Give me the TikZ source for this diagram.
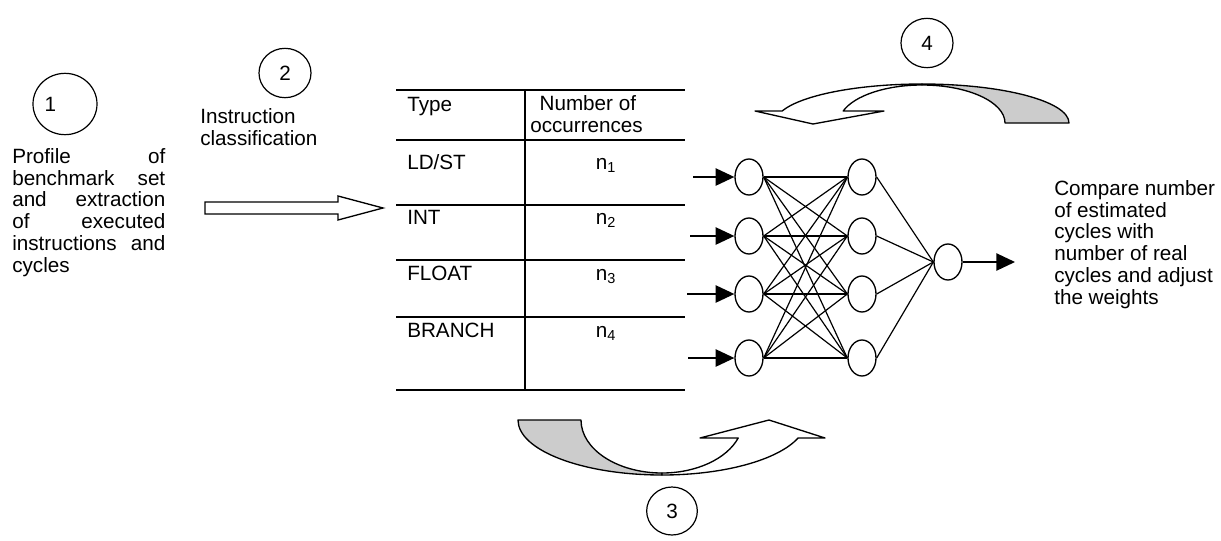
\documentclass[tikz,border=0pt]{standalone}
\usepackage{fontspec}
\setmainfont{Liberation Sans}
\usetikzlibrary{arrows.meta,shapes.geometric}
\definecolor{ribbongray}{HTML}{CCCCCC}
\begin{document}
\begin{tikzpicture}[x=0.75pt,y=0.75pt,
  txt/.style={font=\fontsize{15.5}{16.4}\selectfont, inner sep=0pt},
  numcirc/.style={draw, ellipse, line width=0.9pt, inner sep=0pt, font=\fontsize{15.5}{16.4}\selectfont},
  neuron/.style={draw, ellipse, line width=1pt, minimum width=21pt, minimum height=27pt, inner sep=0pt},
  link/.style={line width=0.9pt},
  inarrow/.style={line width=1pt, -{Triangle[length=14pt,width=13pt]}},
  tline/.style={line width=1.2pt},
  ribbon/.style={draw, line width=1pt, line join=round},
  hollow/.style={draw, line width=1pt, fill=white, line join=miter}]
\useasboundingbox (0,0) rectangle (1221,-540);

% numbered circles
\node[numcirc, minimum width=48pt, minimum height=46pt] (c1) at (65,-104) {1\kern22pt};
\node[numcirc, minimum width=39pt, minimum height=37pt] (c2) at (285,-73) {2};
\node[numcirc, minimum width=39pt, minimum height=37pt] (c4) at (927,-43) {4};
\node[numcirc, minimum width=38pt, minimum height=36pt] (c3) at (672,-511) {3};

% texts
\node[txt, anchor=north west, text width=114.75pt, align=justify] (t1) at (12,-148)
  {Profile of\break benchmark set\break and extraction\break of executed\break instructions and\break cycles};
\node[txt, anchor=north west, align=left] (t2) at (200,-108) {Instruction\\classification};
\node[txt, anchor=north west, align=left] (t5) at (1054,-180)
  {Compare number\\of estimated\\cycles with\\number of real\\cycles and adjust\\the weights};

% hollow block arrow
\path[hollow] (205,-202) -- (338,-202) -- (338,-196) -- (383,-208) -- (338,-220) -- (338,-214) -- (205,-214) -- cycle;

% table
\draw[tline] (396,-90) -- (685,-90);
\draw[tline] (396,-140) -- (685,-140);
\draw[tline] (396,-205) -- (685,-205);
\draw[tline] (396,-260) -- (685,-260);
\draw[tline] (396,-317) -- (685,-317);
\draw[tline] (396,-390) -- (685,-390);
\draw[tline] (525,-90) -- (525,-390);
\node[txt, anchor=base west] (ty) at (407,-111) {Type};
\node[txt, anchor=north west, align=left] (noc) at (530,-95) {\hspace*{7pt}Number of\\occurrences};
\node[txt, anchor=base west] (r1) at (407,-169) {LD/ST};
\node[txt, anchor=base west] (r2) at (407,-224) {INT};
\node[txt, anchor=base west] (r3) at (407,-280) {FLOAT};
\node[txt, anchor=base west] (r4) at (407,-337) {BRANCH};
\node[txt, anchor=base] (n1) at (606,-169) {n\textsubscript{1}};
\node[txt, anchor=base] (n2) at (606,-224) {n\textsubscript{2}};
\node[txt, anchor=base] (n3) at (606,-280) {n\textsubscript{3}};
\node[txt, anchor=base] (n4) at (606,-337) {n\textsubscript{4}};

% neural network
\node[neuron] (i1) at (749,-177) {};
\node[neuron] (i2) at (749,-236) {};
\node[neuron] (i3) at (749,-294) {};
\node[neuron] (i4) at (749,-358) {};
\node[neuron] (h1) at (862,-177) {};
\node[neuron] (h2) at (862,-236) {};
\node[neuron] (h3) at (862,-294) {};
\node[neuron] (h4) at (862,-358) {};
\node[neuron] (o) at (948,-262) {};
\coordinate (s1) at (693,-177);
\coordinate (s2) at (690,-236);
\coordinate (s3) at (687,-294);
\coordinate (s4) at (688,-358);
\coordinate (oe) at (1015,-262);
\foreach \k in {1,2,3,4} {\draw[inarrow] (s\k) -- (i\k);}
\foreach \a in {1,2,3,4} {\foreach \b in {1,2,3,4} {\draw[link] (i\a.east) -- (h\b.west);}}
\foreach \b in {1,2,3,4} {\draw[link] (h\b.east) -- (o.west);}
\draw[inarrow] (o) -- (oe);

% curved arrow 4 (top)
\path[ribbon, fill=white] (922,-84) arc[start angle=90, end angle=162.1, x radius=147, y radius=39]
  -- (755,-111) -- (813,-124) -- (884,-111) -- (843.2,-111)
  arc[start angle=161.6, end angle=90, x radius=83, y radius=38] -- cycle;
\path[ribbon, fill=ribbongray] (922,-84) arc[start angle=90, end angle=0, x radius=147, y radius=39]
  -- (1005,-123) arc[start angle=0, end angle=90, x radius=83, y radius=38] -- cycle;

% curved arrow 3 (bottom)
\path[ribbon, fill=ribbongray] (518,-420) arc[start angle=180, end angle=270, x radius=144, y radius=55]
  -- (662,-473) arc[start angle=270, end angle=180, x radius=81, y radius=53] -- cycle;
\path[ribbon, fill=white] (662,-475) arc[start angle=270, end angle=340.9, x radius=144, y radius=55]
  -- (825,-438) -- (769,-420) -- (700,-438) -- (738.2,-438)
  arc[start angle=340.15, end angle=270, x radius=81, y radius=53] -- cycle;
\end{tikzpicture}
\end{document}
